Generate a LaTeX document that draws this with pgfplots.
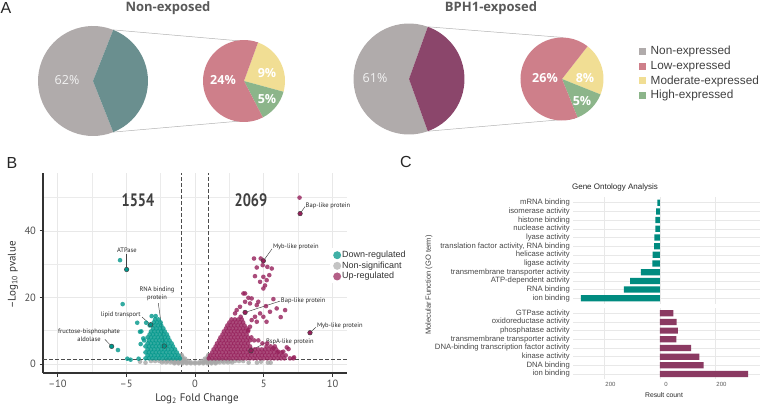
\documentclass[border=0pt]{standalone}
\usepackage{graphicx}
\usepackage{pgfplots}
\pgfplotsset{compat=1.18}
\usepackage{fontspec}
\setmainfont{Liberation Sans}
\newfontfamily\osans{Open Sans}
\newfontfamily\ptsans{PT Sans}

% panel A colours
\definecolor{pieGray}{HTML}{B0ABAB}
\definecolor{pieTeal}{HTML}{6A8F8F}
\definecolor{piePurple}{HTML}{8B466B}
\definecolor{pieLow}{HTML}{CE7F8A}
\definecolor{pieMod}{HTML}{F1DE94}
\definecolor{pieHigh}{HTML}{8CB58A}
\definecolor{titleGray}{HTML}{595959}
% panel B colours
\definecolor{downC}{HTML}{00968A}
\definecolor{upC}{HTML}{951F5A}
\definecolor{nsC}{HTML}{A6A6A6}
\definecolor{legDown}{HTML}{40B0A6}
\definecolor{legNs}{HTML}{C4C4C4}
\definecolor{legUp}{HTML}{B45F87}
% panel C colours
\definecolor{goDown}{HTML}{008B80}
\definecolor{goUp}{HTML}{8B3A62}

% pie slice: colour, centre x, centre y, radius, start angle, sweep
\newcommand{\slice}[6]{\fill[#1] (axis cs:#2,#3) -- ++({#5}:#4pt) arc[start angle={#5}, delta angle={#6}, radius=#4pt] -- cycle;}

\pgfplotsset{
  gostyle/.style={
    scale only axis, width=187pt, xmin=-313.5, xmax=360.4,
    xbar, bar width=6.2pt,
    axis line style={draw=none}, major tick length=0pt,
    xmajorgrids, ymajorgrids, grid style={color=black!9, line width=0.5pt},
    xtick={-200,0,200},
    yticklabel style={font=\fontsize{7.7}{8}\selectfont, text=black!72, inner xsep=3pt},
  },
  dot/.style={only marks, mark=*, mark size=2.3pt, color=#1,
    mark options={fill=#1, draw opacity=0, fill opacity=0.8}},
  ringdot/.style={only marks, mark=*, mark size=2.3pt,
    mark options={draw=black!75, line width=0.45pt, fill=#1}},
}

\begin{document}
\begin{tikzpicture}
\useasboundingbox (0pt,0pt) rectangle (761pt,405pt);

% ---------------- Panel A: expression pies ----------------
\begin{axis}[at={(0pt,0pt)}, anchor=south west, scale only axis, width=761pt, height=405pt,
  xmin=0, xmax=761, ymin=0, ymax=405, hide axis, clip=false]
  % connector lines
  \draw[black!30, line width=0.5pt] (axis cs:113.2,375.1) -- (axis cs:258,362.5);
  \draw[black!30, line width=0.5pt] (axis cs:113.2,272.9) -- (axis cs:258,285.5);
  \draw[black!30, line width=0.5pt] (axis cs:427.8,378.2) -- (axis cs:563.4,367.5);
  \draw[black!30, line width=0.5pt] (axis cs:427.8,273.8) -- (axis cs:574.8,286.5);
  % Non-exposed: 62 non-expressed, 38 expressed (24 low, 9 moderate, 5 high)
  \slice{pieGray}{93}{324}{55}{1.8*38}{3.6*62}
  \slice{pieTeal}{93}{324}{55}{-1.8*38}{3.6*38}
  \slice{pieMod}{244}{324}{41}{70}{-360*9/38}
  \slice{pieHigh}{244}{324}{41}{70-360*9/38}{-360*5/38}
  \slice{pieLow}{244}{324}{41}{70-360*14/38}{-360*24/38}
  % BPH1-exposed: 61 non-expressed, 39 expressed (26 low, 8 moderate, 5 high)
  \slice{pieGray}{409}{326}{55.5}{1.8*39}{3.6*61}
  \slice{piePurple}{409}{326}{55.5}{-1.8*39}{3.6*39}
  \slice{pieMod}{562}{326}{41.5}{52}{-360*8/39}
  \slice{pieHigh}{562}{326}{41.5}{52-360*8/39}{-360*5/39}
  \slice{pieLow}{562}{326}{41.5}{52-360*13/39}{-360*26/39}
  % percentages
  \node[font=\osans\fontsize{12.5}{13}\selectfont, text=black!5] at (axis cs:67,325) {62\%};
  \node[font=\osans\bfseries\fontsize{12.5}{13}\selectfont, text=white] at (axis cs:223,325) {24\%};
  \node[font=\osans\bfseries\fontsize{12.5}{13}\selectfont, text=white] at (axis cs:267,332) {9\%};
  \node[font=\osans\bfseries\fontsize{12.5}{13}\selectfont, text=white] at (axis cs:267,306) {5\%};
  \node[font=\osans\fontsize{12.5}{13}\selectfont, text=black!5] at (axis cs:375,327) {61\%};
  \node[font=\osans\bfseries\fontsize{12.5}{13}\selectfont, text=white] at (axis cs:545,327) {26\%};
  \node[font=\osans\bfseries\fontsize{12.5}{13}\selectfont, text=white] at (axis cs:585,327) {8\%};
  \node[font=\osans\bfseries\fontsize{12.5}{13}\selectfont, text=white] at (axis cs:582,304) {5\%};
  % legend
  \fill[pieGray] (axis cs:638.5,349.8) rectangle (axis cs:645.5,356.8);
  \fill[pieLow]  (axis cs:638.5,335.2) rectangle (axis cs:645.5,342.2);
  \fill[pieMod]  (axis cs:638.5,320.5) rectangle (axis cs:645.5,327.5);
  \fill[pieHigh] (axis cs:638.5,305.8) rectangle (axis cs:645.5,312.8);
  \begin{scope}[every node/.style={anchor=west, inner sep=0pt, font=\fontsize{11.8}{12}\selectfont, text=black!75}]
  \node at (axis cs:650.5,353.3) {Non-expressed};
  \node at (axis cs:650.5,338.7) {Low-expressed};
  \node at (axis cs:650.5,324) {Moderate-expressed};
  \node at (axis cs:650.5,309.3) {High-expressed};
  \end{scope}
\end{axis}

% panel letters and titles
\node[font=\fontsize{16}{16}\selectfont, text=black!85] at (6pt,397pt) {A};
\node[font=\fontsize{16}{16}\selectfont, text=black!85] at (12pt,242pt) {B};
\node[font=\fontsize{16}{16}\selectfont, text=black!85] at (406pt,243pt) {C};
\node[font=\osans\bfseries\fontsize{13}{13}\selectfont, text=titleGray] at (168pt,397pt) {Non-exposed};
\node[font=\osans\bfseries\fontsize{13}{13}\selectfont, text=titleGray] at (491pt,397pt) {BPH1-exposed};

% ---------------- Panel B: volcano plot ----------------
\begin{axis}[at={(43pt,32pt)}, anchor=south west, scale only axis, width=304pt, height=200pt,
  xmin=-11.05, xmax=11.05, ymin=-2.7, ymax=57.4,
  axis x line*=bottom, axis y line*=left,
  axis line style={line width=1.3pt, color=black!80},
  xtick={-10,-5,0,5,10}, xticklabels={–10,–5,0,5,10},
  minor xtick={-7.5,-2.5,2.5,7.5},
  ytick={0,20,40}, yticklabels={0,20,40}, minor ytick={10,30,50},
  grid=both,
  major grid style={color=black!9, line width=0.6pt},
  minor grid style={color=black!8, line width=0.5pt},
  tick align=outside, major tick length=3.5pt, minor tick length=0pt,
  tick style={line width=1pt, color=black!80},
  ticklabel style={font=\ptsans\fontsize{10.5}{12}\selectfont, text=black!70},
  clip=false,
  legend image code/.code={\fill[#1, draw=none] (0.1cm,0pt) circle (4pt);},
  legend style={at={(0.944,0.625)}, anchor=north west, draw=none, fill=white,
    font=\fontsize{9}{10}\selectfont, text=black!80, row sep=0.6pt,
    nodes={inner sep=1pt}},
  legend cell align=left,
]
% non-significant
\addplot[dot=nsC, forget plot] coordinates {
(-1.5,0.2) (-1.2,0.2) (-0.9,0.2) (-0.6,0.2) (-0.3,0.2) (0,0.2) (0.3,0.2) (0.6,0.2) (0.9,0.2) (1.2,0.2) (1.5,0.2)
(-2.4,0.5) (-2.1,0.5) (-1.8,0.5) (-1.5,0.5) (-1.2,0.5) (-0.9,0.5) (-0.6,0.5) (-0.3,0.5) (0,0.5) (0.3,0.5) (0.6,0.5) (0.9,0.5) (1.2,0.5) (1.5,0.5) (1.8,0.5) (2.1,0.5) (2.4,0.5) (2.7,0.5)
(-3.2,0.9) (-2.9,0.9) (-2.6,0.9) (-2.3,0.9) (-2.0,0.9) (-1.7,0.9) (-1.4,0.9) (-1.1,0.9) (-0.8,0.9) (-0.5,0.9) (0.5,0.9) (0.8,0.9) (1.1,0.9) (1.4,0.9) (1.7,0.9) (2.0,0.9) (2.3,0.9) (2.6,0.9) (2.9,0.9) (3.2,0.9) (3.5,0.9)
(-2.0,1.2) (-1.7,1.2) (-1.4,1.2) (-1.1,1.2) (-0.8,1.3) (0.8,1.3) (1.1,1.2) (1.4,1.2) (1.7,1.2) (2.0,1.2) (2.4,1.2)
(-0.95,1.7) (-0.72,1.6) (0.72,1.6) (0.95,1.7) (-0.92,2.2) (0.92,2.2) (-0.97,2.7) (0.97,2.7)
(4.5,0.4) (4.8,0.7) (5.3,0.4) (5.5,0.4) (-3.6,0.4) (-4.0,0.7) (3.9,0.4)
};
% down-regulated
\addplot[dot=downC, forget plot] coordinates {
(-3.6,1.7) (-3.35,1.7) (-3.1,1.7) (-2.85,1.7) (-2.6,1.7) (-2.35,1.7) (-2.1,1.7) (-1.85,1.7) (-1.6,1.7) (-1.35,1.7) (-1.1,1.7)
(-3.45,2.6) (-3.2,2.6) (-2.95,2.6) (-2.7,2.6) (-2.45,2.6) (-2.2,2.6) (-1.95,2.6) (-1.7,2.6) (-1.45,2.6) (-1.2,2.6)
(-3.6,3.5) (-3.35,3.5) (-3.1,3.5) (-2.85,3.5) (-2.6,3.5) (-2.35,3.5) (-2.1,3.5) (-1.85,3.5) (-1.6,3.5) (-1.33,3.5)
(-3.45,4.4) (-3.2,4.4) (-2.95,4.4) (-2.7,4.4) (-2.45,4.4) (-2.2,4.4) (-1.95,4.4) (-1.7,4.4) (-1.45,4.4)
(-3.6,5.3) (-3.35,5.3) (-3.1,5.3) (-2.85,5.3) (-2.6,5.3) (-2.35,5.3) (-2.1,5.3) (-1.85,5.3) (-1.6,5.3)
(-3.45,6.2) (-3.2,6.2) (-2.95,6.2) (-2.7,6.2) (-2.45,6.2) (-2.2,6.2) (-1.95,6.2) (-1.7,6.2)
(-3.7,7.1) (-3.35,7.1) (-3.1,7.1) (-2.85,7.1) (-2.6,7.1) (-2.35,7.1) (-2.1,7.1) (-1.85,7.1)
(-3.45,8.0) (-3.2,8.0) (-2.95,8.0) (-2.7,8.0) (-2.45,8.0) (-2.2,8.0) (-1.95,8.0)
(-3.3,8.9) (-3.05,8.9) (-2.8,8.9) (-2.55,8.9) (-2.3,8.9) (-2.05,8.9)
(-3.2,9.8) (-2.95,9.8) (-2.7,9.8) (-2.45,9.8) (-2.2,9.8)
(-3.05,10.7) (-2.8,10.7) (-2.55,10.7) (-2.3,10.7)
(-3.3,11.6) (-2.95,11.6) (-2.7,11.6) (-2.45,11.6)
(-3.0,12.5) (-2.75,12.5) (-2.5,12.5)
(-2.9,13.4) (-2.65,13.4)
(-5.45,31.2) (-5.26,18.0) (-4.2,12.4) (-4.0,9.7) (-3.76,7.7) (-5.6,4.2) (-4.92,1.6) (-4.68,1.3) (-4.1,1.6)
(-3.15,14.4) (-2.86,14.4) (-3.95,6.0) (-3.9,9.8) (-3.55,12.4)
};
% up-regulated
\addplot[dot=upC, forget plot] coordinates {
(1.0,1.7) (1.25,1.7) (1.5,1.7) (1.75,1.7) (2.0,1.7) (2.25,1.7) (2.5,1.7) (2.75,1.7) (3.0,1.7) (3.25,1.7) (3.5,1.7) (3.75,1.7) (4.0,1.7) (4.25,1.7) (4.5,1.7) (4.75,1.7) (5.0,1.7) (5.25,1.7) (5.5,1.7) (5.75,1.7) (6.0,1.7) (6.25,1.7) (6.5,1.7) (6.9,1.7)
(1.1,2.6) (1.35,2.6) (1.6,2.6) (1.85,2.6) (2.1,2.6) (2.35,2.6) (2.6,2.6) (2.85,2.6) (3.1,2.6) (3.35,2.6) (3.6,2.6) (3.85,2.6) (4.1,2.6) (4.35,2.6) (4.6,2.6) (4.85,2.6) (5.1,2.6) (5.35,2.6) (5.6,2.6) (5.85,2.6) (6.1,2.6) (6.35,2.6) (6.6,2.6)
(1.25,3.5) (1.5,3.5) (1.75,3.5) (2.0,3.5) (2.25,3.5) (2.5,3.5) (2.75,3.5) (3.0,3.5) (3.25,3.5) (3.5,3.5) (3.75,3.5) (4.0,3.5) (4.25,3.5) (4.5,3.5) (4.75,3.5) (5.0,3.5) (5.25,3.5) (5.5,3.5) (5.75,3.5) (6.0,3.5) (6.3,3.5)
(1.35,4.4) (1.6,4.4) (1.85,4.4) (2.1,4.4) (2.35,4.4) (2.6,4.4) (2.85,4.4) (3.1,4.4) (3.35,4.4) (3.6,4.4) (3.85,4.4) (4.1,4.4) (4.35,4.4) (4.6,4.4) (4.85,4.4) (5.1,4.4) (5.35,4.4) (5.6,4.4) (5.9,4.4)
(1.5,5.3) (1.75,5.3) (2.0,5.3) (2.25,5.3) (2.5,5.3) (2.75,5.3) (3.0,5.3) (3.25,5.3) (3.5,5.3) (3.75,5.3) (4.0,5.3) (5.2,5.3) (5.5,5.3) (5.8,5.3)
(1.6,6.2) (1.85,6.2) (2.1,6.2) (2.35,6.2) (2.6,6.2) (2.85,6.2) (3.1,6.2) (3.35,6.2) (3.6,6.2) (3.85,6.2) (4.9,6.2) (5.25,6.2)
(1.75,7.1) (2.0,7.1) (2.25,7.1) (2.5,7.1) (2.75,7.1) (3.0,7.1) (3.25,7.1) (3.5,7.1) (3.75,7.1) (4.0,7.1) (4.3,7.1) (4.6,7.1)
(1.85,8.0) (2.1,8.0) (2.35,8.0) (2.6,8.0) (2.85,8.0) (3.1,8.0) (3.35,8.0) (3.6,8.0) (3.85,8.0) (4.1,8.0)
(2.0,8.9) (2.25,8.9) (2.5,8.9) (2.75,8.9) (3.0,8.9) (3.25,8.9) (3.5,8.9) (3.75,8.9)
(2.1,9.8) (2.35,9.8) (2.6,9.8) (2.85,9.8) (3.1,9.8) (3.35,9.8) (3.6,9.8) (3.85,9.8)
(2.25,10.7) (2.5,10.7) (2.75,10.7) (3.0,10.7) (3.25,10.7) (3.5,10.7) (3.75,10.7)
(2.35,11.6) (2.6,11.6) (2.85,11.6) (3.1,11.6) (3.35,11.6) (3.6,11.6)
(2.5,12.5) (2.75,12.5) (3.0,12.5) (3.25,12.5) (3.5,12.5)
(2.65,13.4) (2.9,13.4) (3.15,13.4) (3.4,13.4)
(3.52,21.2) (3.64,18.7) (4.0,18.2) (4.12,19.7) (4.49,17.7) (4.6,18.7) (5.16,17.4) (5.45,15.7) (6.55,16.2) (6.23,14.1)
(4.73,15.2) (5.2,12.7) (4.49,12.7) (4.12,13.2) (4.0,11.2) (3.88,10.2) (3.27,17.2) (3.03,16.2) (2.91,15.2) (3.32,14.2)
(6.67,5.0) (5.7,4.7) (6.06,3.7) (6.42,3.7) (7.2,2.0) (6.8,4.5) (7.15,1.7)
(4.29,31.7) (4.78,31.7) (4.92,29.7) (5.26,29.2) (4.49,29.0) (5.58,28.7) (4.36,26.4) (4.97,26.2) (5.4,26.7) (5.21,25.2)
(4.73,24.7) (5.09,23.6) (4.97,22.7) (5.7,19.5) (3.64,21.2) (3.88,19.9) (5.94,16.7) (4.36,14.2) (4.97,14.2)
(7.6,50.0)
};
% thresholds
\addplot[black!70, line width=0.7pt, dash pattern=on 3.5pt off 2.5pt, forget plot] coordinates {(-1,-2.7) (-1,57.4)};
\addplot[black!70, line width=0.7pt, dash pattern=on 3.5pt off 2.5pt, forget plot] coordinates {(1,-2.7) (1,57.4)};
\addplot[black!70, line width=0.7pt, dash pattern=on 3.5pt off 2.5pt, forget plot] coordinates {(-11.05,1.3) (11.05,1.3)};
% leader lines
\draw[black!75, line width=0.45pt] (axis cs:7.64,45.2) -- (axis cs:8.0,47.3);
\draw[black!75, line width=0.45pt] (axis cs:4.97,31.0) -- (axis cs:5.6,34.6);
\draw[black!75, line width=0.45pt] (axis cs:3.64,15.5) -- (axis cs:6.18,18.9);
\draw[black!75, line width=0.45pt] (axis cs:8.36,9.4) -- (axis cs:8.8,11.1);
\draw[black!75, line width=0.45pt] (axis cs:4.07,4.0) -- (axis cs:5.1,6.4);
\draw[black!75, line width=0.45pt] (axis cs:-4.97,28.4) -- (axis cs:-4.97,33.1);
\draw[black!75, line width=0.45pt] (axis cs:-2.23,5.4) -- (axis cs:-2.67,18.3);
\draw[black!75, line width=0.45pt] (axis cs:-3.22,11.8) -- (axis cs:-3.85,14.1);
\draw[black!75, line width=0.45pt] (axis cs:-6.06,5.3) -- (axis cs:-6.55,7.4);
% annotated genes
\addplot[ringdot=downC, forget plot] coordinates {
(-4.97,28.4) (-2.23,5.4) (-3.22,11.8) (-6.06,5.3)};
\addplot[ringdot=upC, forget plot] coordinates {
(7.64,45.2) (4.97,31.0) (3.64,15.5) (8.36,9.4) (4.07,4.0)};
% gene names
\begin{scope}[every node/.style={inner sep=0.5pt, font=\ptsans\fontsize{6.5}{8}\selectfont, text=black!85}]
\node[anchor=west] at (axis cs:8.0,47.6) {Bap-like protein};
\node[anchor=west] at (axis cs:5.62,35.1) {Myb-like protein};
\node[anchor=west] at (axis cs:6.2,19.0) {Bap-like protein};
\node[anchor=west] at (axis cs:8.82,11.5) {Myb-like protein};
\node[anchor=west] at (axis cs:5.12,6.7) {BspA-like protein};
\node at (axis cs:-4.95,34.3) {ATPase};
\node[align=center] at (axis cs:-2.76,21.0) {RNA binding\\protein};
\node[anchor=east] at (axis cs:-3.9,14.7) {lipid transport};
\node[align=center] at (axis cs:-7.71,8.6) {fructose-bisphosphate\\aldolase};
\end{scope}
% counts
\node[font=\ptsans\bfseries\fontsize{18}{18}\selectfont, text=black!75] at (axis cs:-4.15,49.2) {\scalebox{0.8}[1]{1554}};
\node[font=\ptsans\bfseries\fontsize{18}{18}\selectfont, text=black!75] at (axis cs:4.07,49.2) {\scalebox{0.8}[1]{2069}};
% legend
\addlegendimage{fill=legDown}\addlegendentry{Down-regulated}
\addlegendimage{fill=legNs}\addlegendentry{Non-significant}
\addlegendimage{fill=legUp}\addlegendentry{Up-regulated}
\end{axis}
\node[font=\ptsans\fontsize{11}{12}\selectfont, text=black!80] at (197pt,6pt) {Log\textsubscript{2} Fold Change};
\node[font=\ptsans\fontsize{11}{12}\selectfont, text=black!80, rotate=90] at (13pt,130pt) {–Log\textsubscript{10} pvalue};

% ---------------- Panel C: GO molecular function ----------------
\begin{axis}[gostyle, at={(573pt,101.5pt)}, anchor=south west, height=106pt,
  ymin=0.4, ymax=12.6, ytick={1,...,12}, xticklabels={},
  yticklabels={ion binding, RNA binding, ATP-dependent activity, transmembrane transporter activity,
    ligase activity, helicase activity, {translation factor activity, RNA binding}, lyase activity,
    nuclease activity, histone binding, isomerase activity, mRNA binding}]
\addplot[fill=goDown, draw=none] coordinates {
(-285,1) (-130,2) (-108,3) (-68.5,4) (-27.7,5) (-26.3,6) (-21.6,7) (-20.5,8) (-17,9) (-17,10) (-14.4,11) (-9.7,12)};
\end{axis}
\begin{axis}[gostyle, at={(573pt,25.8pt)}, anchor=south west, height=71.1pt,
  ymin=0.4, ymax=8.6, ytick={1,...,8},
  xticklabels={200,0,200},
  xticklabel style={xshift=6pt, font=\fontsize{6}{7}\selectfont, text=black!65},
  yticklabels={ion binding, DNA binding, kinase activity, DNA-binding transcription factor activity,
    transmembrane transporter activity, phosphatase activity, oxidoreductase activity, GTPase activity}]
\addplot[fill=goUp, draw=none] coordinates {
(318,1) (157,2) (142,3) (112,4) (59,5) (64,6) (60,7) (48,8)};
\end{axis}
\node[font=\fontsize{8}{9}\selectfont, text=black!85] at (615pt,218pt) {Gene Ontology Analysis};
\node[font=\fontsize{6.8}{8}\selectfont, text=black!85] at (664pt,10.3pt) {Result count};
\node[font=\fontsize{7.5}{8}\selectfont, text=black!75, rotate=90] at (429pt,120pt) {Molecular Function (GO term)};
\end{tikzpicture}
\end{document}
